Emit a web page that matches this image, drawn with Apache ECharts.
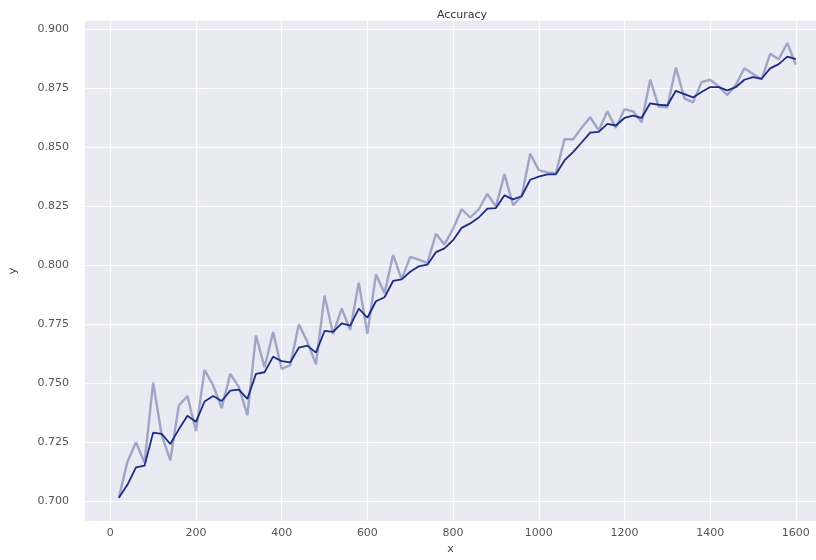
<!DOCTYPE html>
<html>
<head>
<meta charset="utf-8">
<script src="https://cdn.jsdelivr.net/npm/echarts@6/dist/echarts.min.js"></script>
<style>
html,body{margin:0;padding:0;background:#fff;}
#chart{width:816px;height:560px;}
</style>
</head>
<body>
<div id="chart"></div>
<script>
var steps = [20,40,60,80,100,120,140,160,180,200,220,240,260,280,300,320,340,360,380,400,
  420,440,460,480,500,520,540,560,580,600,620,640,660,680,700,720,740,760,780,800,
  820,840,860,880,900,920,940,960,980,1000,1020,1040,1060,1080,1100,1120,1140,1160,1180,1200,
  1220,1240,1260,1280,1300,1320,1340,1360,1380,1400,1420,1440,1460,1480,1500,1520,1540,1560,1580,1600];

var rawAccuracy = [0.7014,0.7166,0.7249,0.7162,0.7502,0.7280,0.7173,0.7405,0.7445,0.7297,
  0.7556,0.7491,0.7394,0.7539,0.7484,0.7364,0.7702,0.7567,0.7716,0.7560,
  0.7576,0.7749,0.7675,0.7580,0.7871,0.7708,0.7816,0.7726,0.7926,0.7709,
  0.7961,0.7881,0.8043,0.7940,0.8035,0.8023,0.8009,0.8133,0.8088,0.8154,
  0.8237,0.8202,0.8237,0.8302,0.8248,0.8386,0.8254,0.8292,0.8472,0.8403,
  0.8393,0.8390,0.8534,0.8534,0.8582,0.8627,0.8571,0.8652,0.8582,0.8661,
  0.8652,0.8606,0.8786,0.8672,0.8669,0.8838,0.8707,0.8690,0.8776,0.8786,
  0.8758,0.8721,0.8765,0.8835,0.8810,0.8788,0.8896,0.8873,0.8942,0.8849];

var smoothAccuracy = [0.7014,0.7069,0.7143,0.7150,0.7290,0.7285,0.7242,0.7304,0.7362,0.7336,
  0.7422,0.7445,0.7424,0.7468,0.7472,0.7433,0.7539,0.7546,0.7612,0.7593,
  0.7588,0.7650,0.7659,0.7629,0.7721,0.7717,0.7753,0.7744,0.7816,0.7777,
  0.7847,0.7864,0.7933,0.7940,0.7972,0.7995,0.8002,0.8055,0.8071,0.8106,
  0.8158,0.8177,0.8202,0.8240,0.8242,0.8296,0.8279,0.8292,0.8362,0.8375,
  0.8385,0.8385,0.8444,0.8479,0.8520,0.8562,0.8565,0.8599,0.8592,0.8624,
  0.8634,0.8624,0.8686,0.8680,0.8677,0.8739,0.8725,0.8711,0.8734,0.8755,
  0.8755,0.8741,0.8755,0.8786,0.8797,0.8790,0.8834,0.8852,0.8884,0.8873];

var xTicks = [0,200,400,600,800,1000,1200,1400,1600];
var yTicks = [0.700,0.725,0.750,0.775,0.800,0.825,0.850,0.875,0.900];

var chart = echarts.init(document.getElementById('chart'), null, {renderer:'canvas'});
var font = 'DejaVu Sans';
chart.setOption({
  backgroundColor: '#ffffff',
  animation: false,
  title: {
    text: 'Accuracy',
    left: 457,
    top: 5,
    textAlign: 'center',
    textStyle: {fontFamily: font, fontSize: 11, fontWeight: 'normal', color: '#333'}
  },
  grid: {
    left: 85, right: 0, top: 21, bottom: 28,
    show: true, backgroundColor: '#eaeaf2', borderWidth: 0
  },
  xAxis: {
    type: 'value',
    min: -59, max: 1647,
    name: 'x', nameLocation: 'middle', nameGap: 19,
    nameTextStyle: {fontFamily: font, fontSize: 11, color: '#444'},
    axisLine: {show: false},
    axisTick: {show: false, customValues: xTicks},
    axisLabel: {customValues: xTicks, fontFamily: font, fontSize: 11, color: '#555', margin: 7,
      formatter: function(v){ return String(v); }},
    splitLine: {show: true, lineStyle: {color: '#ffffff', width: 1.2}}
  },
  yAxis: {
    type: 'value',
    min: 0.6915, max: 0.9035,
    name: 'y', nameLocation: 'middle', nameGap: 66,
    nameTextStyle: {fontFamily: font, fontSize: 11, color: '#444'},
    axisLine: {show: false},
    axisTick: {show: false, customValues: yTicks},
    axisLabel: {customValues: yTicks, fontFamily: font, fontSize: 11, color: '#555', margin: 16,
      formatter: function(v){ return v.toFixed(3); }},
    splitLine: {show: true, lineStyle: {color: '#ffffff', width: 1.2}}
  },
  series: [
    {
      type: 'line',
      data: steps.map(function(s, i){ return [s, rawAccuracy[i]]; }),
      showSymbol: false,
      lineStyle: {color: 'rgba(55,70,135,0.42)', width: 2.4},
      itemStyle: {color: 'rgba(55,70,135,0.42)'},
      z: 2
    },
    {
      type: 'line',
      data: steps.map(function(s, i){ return [s, smoothAccuracy[i]]; }),
      showSymbol: false,
      lineStyle: {color: '#1c2b84', width: 1.8},
      itemStyle: {color: '#1c2b84'},
      z: 3
    }
  ]
});
</script>
</body>
</html>
